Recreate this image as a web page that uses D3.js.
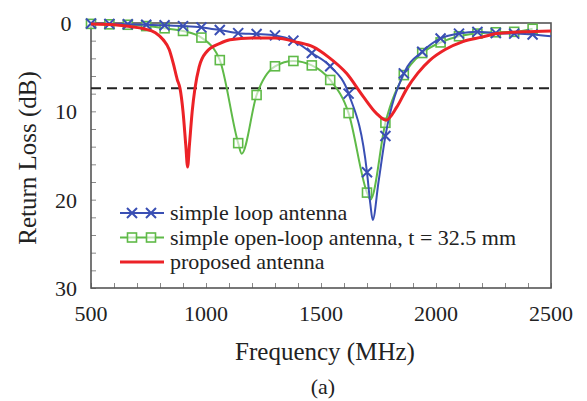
<!DOCTYPE html>
<html>
<head>
<meta charset="utf-8">
<script src="https://cdn.jsdelivr.net/npm/d3@7"></script>
<style>
    body { margin: 0; background: #fff; }
    text { font-family: "Liberation Serif", "Times New Roman", serif; fill: #222; }
</style>
</head>
<body>
<div id="chart"></div>
<script>

// x tick labels and y tick labels
var xTicks = [500, 1000, 1500, 2000, 2500];
var yTicks = [0, 10, 20, 30];

// simple loop antenna: [frequency MHz, return loss dB]
var loopData = [
    [500, 0.05], [580, 0.1], [660, 0.15], [740, 0.2], [820, 0.25], [900, 0.35],
    [980, 0.5], [1060, 0.8], [1140, 1.15], [1220, 1.25], [1300, 1.4], [1380, 2.0],
    [1460, 3.4], [1540, 4.9], [1620, 8.0], [1700, 16.9], [1715, 20.6], [1725, 22.3],
    [1750, 18.0], [1780, 12.8], [1860, 5.7], [1940, 3.25], [2020, 1.75], [2100, 1.2],
    [2180, 1.0], [2260, 1.15], [2340, 1.2], [2420, 1.3], [2500, 1.5]
];

// simple open-loop antenna, t = 32.5 mm
var openLoopData = [
    [500, 0.1], [580, 0.15], [660, 0.2], [740, 0.35], [820, 0.6], [900, 0.9],
    [980, 1.65], [1060, 4.2], [1140, 13.6], [1155, 14.8], [1220, 8.15], [1300, 4.9],
    [1380, 4.3], [1460, 4.8], [1540, 6.45], [1620, 10.2], [1700, 19.2], [1715, 20.0],
    [1780, 11.3], [1860, 5.9], [1940, 3.4], [2020, 2.2], [2100, 1.5], [2180, 1.2],
    [2260, 1.05], [2340, 1.0], [2420, 0.65]
];

// proposed antenna
var proposedData = [
    [500, 0.1], [600, 0.2], [670, 0.4], [730, 0.65], [780, 1.1], [814, 1.9],
    [840, 3.0], [858, 4.6], [875, 6.4], [887, 7.4], [900, 10.0], [912, 13.8],
    [920, 16.3], [928, 13.8], [940, 10.0], [952, 7.4], [970, 5.0], [1003, 3.25],
    [1061, 2.3], [1104, 1.9], [1200, 1.7], [1300, 1.7], [1400, 2.2], [1466, 2.7],
    [1530, 3.8], [1611, 5.7], [1683, 8.3], [1740, 10.2], [1783, 11.0], [1830, 9.5],
    [1874, 7.4], [1920, 5.7], [1974, 4.2], [2040, 3.0], [2117, 2.1], [2200, 1.6],
    [2265, 1.2], [2380, 1.0], [2500, 0.9]
];

// reference level (dashed line)
var refLevel = [7.4];

// markers are placed every 80 MHz, from 500 up to 2420 MHz
var markerStep = 80;
var markerLast = 2420;

var legendItems = [
    { name: "simple loop antenna", key: "loop" },
    { name: "simple open-loop antenna, t = 32.5 mm", key: "open" },
    { name: "proposed antenna", key: "proposed" }
];

var colors = { loop: "#3a4fb4", open: "#5fba48", proposed: "#ec2227" };

var margin = { top: 23, right: 36, bottom: 113, left: 91 };
var width = 587 - margin.left - margin.right;
var height = 401 - margin.top - margin.bottom;

var svg = d3.select("#chart").append("svg")
    .attr("width", 587)
    .attr("height", 401);

var g = svg.append("g")
    .attr("transform", "translate(" + margin.left + "," + margin.top + ")");

var x = d3.scaleLinear().domain([500, 2500]).range([0, width]);
var y = d3.scaleLinear().domain([0, 30]).range([0, height]);

var line = d3.line()
    .x(function(d) { return x(d[0]); })
    .y(function(d) { return y(d[1]); })
    .curve(d3.curveMonotoneX);

// draw the frame and inner ticks
function drawAxes() {

    // minor ticks on the x axis, every 100 MHz
    g.append("g")
        .attr("transform", "translate(0," + height + ")")
        .call(d3.axisBottom(x).tickValues(d3.range(500, 2501, 100)).tickSize(-5).tickFormat(""))
        .call(function(s) { s.select(".domain").remove(); })
        .selectAll("line").attr("stroke", "#888").attr("stroke-width", 1);

    // minor ticks on the y axis, every 2 dB
    g.append("g")
        .call(d3.axisLeft(y).tickValues(d3.range(0, 31, 2)).tickSize(-5).tickFormat(""))
        .call(function(s) { s.select(".domain").remove(); })
        .selectAll("line").attr("stroke", "#888").attr("stroke-width", 1);

    // frame
    g.append("rect")
        .attr("width", width)
        .attr("height", height)
        .attr("fill", "none")
        .attr("stroke", "#555")
        .attr("stroke-width", 1.6);

    // x tick labels
    g.selectAll("text.xtick")
        .data(xTicks)
        .enter().append("text")
        .attr("class", "xtick")
        .attr("x", function(d) { return x(d); })
        .attr("y", height + 33)
        .attr("text-anchor", "middle")
        .style("font-size", "22px")
        .text(function(d) { return d; });

    // y tick labels
    g.selectAll("text.ytick")
        .data(yTicks)
        .enter().append("text")
        .attr("class", "ytick")
        .attr("x", -25)
        .attr("y", function(d) { return y(d) + 8; })
        .attr("text-anchor", "middle")
        .style("font-size", "22px")
        .text(function(d) { return d; });

    // axis titles
    svg.append("text")
        .attr("x", 325)
        .attr("y", 360)
        .attr("text-anchor", "middle")
        .style("font-size", "25px")
        .text("Frequency (MHz)");

    svg.append("text")
        .attr("transform", "translate(36,158) rotate(-90)")
        .attr("text-anchor", "middle")
        .style("font-size", "25px")
        .text("Return Loss (dB)");

    svg.append("text")
        .attr("x", 323)
        .attr("y", 394)
        .attr("text-anchor", "middle")
        .style("font-size", "22px")
        .text("(a)");
};

// draw the x-shaped markers
function drawCrosses(sel, data, color) {
    sel.selectAll("path.cross")
        .data(data)
        .enter().append("path")
        .attr("class", "cross")
        .attr("transform", function(d) { return "translate(" + d[0] + "," + d[1] + ")"; })
        .attr("d", "M-5,-5L5,5M-5,5L5,-5")
        .attr("stroke", color)
        .attr("stroke-width", 2)
        .attr("fill", "none");
};

// draw the square markers
function drawSquares(sel, data, color) {
    sel.selectAll("rect.square")
        .data(data)
        .enter().append("rect")
        .attr("class", "square")
        .attr("x", function(d) { return d[0] - 4.5; })
        .attr("y", function(d) { return d[1] - 4.5; })
        .attr("width", 9)
        .attr("height", 9)
        .attr("fill", "#fff")
        .attr("fill-opacity", 0.6)
        .attr("stroke", color)
        .attr("stroke-width", 1.6);
};

function onGrid(d) { return (d[0] - 500) % markerStep === 0 && d[0] <= markerLast; }
function toPixels(d) { return [x(d[0]), y(d[1])]; }

// draw the curves
function drawCurves() {

    // dashed reference line
    g.selectAll("line.ref")
        .data(refLevel)
        .enter().append("line")
        .attr("class", "ref")
        .attr("x1", 0)
        .attr("x2", width)
        .attr("y1", function(d) { return y(d); })
        .attr("y2", function(d) { return y(d); })
        .attr("stroke", "#222")
        .attr("stroke-width", 2)
        .attr("stroke-dasharray", "10,6");

    var openG = g.append("g");
    openG.append("path")
        .attr("d", line(openLoopData))
        .attr("fill", "none")
        .attr("stroke", colors.open)
        .attr("stroke-width", 2);
    drawSquares(openG, openLoopData.filter(onGrid).map(toPixels), colors.open);

    var loopG = g.append("g");
    loopG.append("path")
        .attr("d", line(loopData))
        .attr("fill", "none")
        .attr("stroke", colors.loop)
        .attr("stroke-width", 2);
    drawCrosses(loopG, loopData.filter(onGrid).map(toPixels), colors.loop);

    g.append("path")
        .attr("d", line(proposedData))
        .attr("fill", "none")
        .attr("stroke", colors.proposed)
        .attr("stroke-width", 3);
};

// draw the legend
function drawLegend() {
    var legend = svg.append("g");

    legendItems.forEach(function(item, i) {
        var ly = 213 + i * 24.5;
        var row = legend.append("g");

        row.append("line")
            .attr("x1", 120)
            .attr("x2", 164)
            .attr("y1", ly)
            .attr("y2", ly)
            .attr("stroke", colors[item.key])
            .attr("stroke-width", item.key == "proposed" ? 3 : 2);

        if (item.key == "loop") {
            drawCrosses(row, [[132, ly], [151, ly]], colors.loop);
        }
        else if (item.key == "open") {
            drawSquares(row, [[132, ly], [151, ly]], colors.open);
        };

        row.append("text")
            .attr("x", 170)
            .attr("y", ly + 7)
            .style("font-size", "22px")
            .text(item.name);
    });
};

drawAxes();
drawCurves();
drawLegend();

</script>
</body>
</html>
